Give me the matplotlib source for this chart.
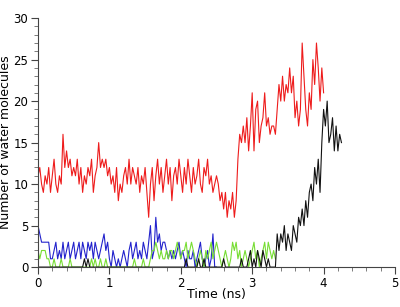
import numpy as np
import matplotlib
matplotlib.use("Agg")
import matplotlib.pyplot as plt
from matplotlib.ticker import MultipleLocator

dt = 0.025  # ns between samples

red = [11,12,10,9,11,10,12,9,11,13,10,9,11,10,16,12,14,12,13,11,
       12,11,13,10,12,9,11,10,12,11,13,9,11,12,15,12,13,12,13,11,
       12,10,11,9,12,8,10,9,11,12,10,13,10,12,11,10,12,9,11,10,
       12,9,6,10,12,8,11,13,10,12,9,11,13,10,12,8,11,12,10,13,
       11,9,12,10,13,11,9,12,10,11,13,10,9,12,11,13,10,11,9,10,
       11,10,8,9,7,9,6,8,7,9,6,8,
       13,16,15,17,15,18,14,17,21,14,19,20,15,17,18,21,17,18,16,17,
       17,16,19,22,20,23,20,22,21,24,21,23,18,20,17,19,27,23,19,17,
       21,19,25,22,27,24,20,24,21]

blue = [5,4,3,3,3,3,3,1,1,2,3,1,2,1,3,1,2,3,1,2,
        3,1,2,3,1,3,2,1,3,2,3,1,3,2,1,2,3,4,2,3,
        1,0,2,1,0,1,0,1,2,1,0,2,3,1,2,3,1,2,1,3,
        2,1,3,5,1,2,6,3,4,2,3,3,2,1,2,1,2,1,2,3,
        1,2,1,0,2,1,1,2,0,1,2,3,1,0,1,2,0,1,4,0,0]

green = [2,1,2,2,2,1,1,0,0,1,0,0,0,1,0,0,0,0,1,0,
         0,0,0,0,0,0,0,0,0,0,1,0,1,0,0,1,0,0,1,0,
         0,0,0,0,0,0,0,0,0,0,0,0,0,0,1,0,0,0,0,1,
         0,0,0,1,2,2,3,2,1,2,1,1,2,1,2,2,1,2,3,2,
         1,2,2,3,1,2,3,2,1,0,1,2,1,0,2,1,2,3,1,2,
         3,2,1,0,1,2,1,0,1,3,2,3,1,2,0,1,2,1,0,1,
         2,3,1,2,0,1,2,3,1,3,2,1,2,1]

black = [0,0,0,0,0,0,0,0,0,0,0,0,0,0,0,0,0,0,0,0,
         0,0,0,0,0,0,1,0,1,0,0,0,0,0,0,0,0,0,0,0,
         0,0,0,0,0,0,0,0,0,0,0,0,0,0,0,0,0,0,0,0,
         0,0,0,0,0,0,0,0,0,0,0,0,0,0,0,0,0,0,0,0,
         0,0,0,1,0,0,0,0,0,0,1,0,0,1,0,0,0,0,0,0,
         0,0,0,0,1,0,0,0,0,0,0,0,
         0,0,1,0,0,0,1,2,0,1,0,2,1,0,2,1,0,1,0,0,
         0,0,4,2,4,3,5,2,4,3,2,5,4,3,6,5,7,5,8,6,
         9,10,8,12,10,13,9,15,19,17,20,15,16,18,14,17,14,16,15]

series = [(red, "#ee1c1c"), (blue, "#2222cc"), (green, "#77dd33"), (black, "#111111")]

fig = plt.figure(figsize=(4.0, 3.07), dpi=100)
ax = fig.add_axes([0.095, 0.130, 0.8925, 0.811])

for vals, col in series:
    t = np.arange(len(vals)) * dt
    ax.plot(t, vals, color=col, lw=0.8)

ax.set_xlim(0, 5)
ax.set_ylim(0, 30)
ax.xaxis.set_major_locator(MultipleLocator(1))
ax.xaxis.set_minor_locator(MultipleLocator(0.2))
ax.yaxis.set_major_locator(MultipleLocator(5))
ax.yaxis.set_minor_locator(MultipleLocator(1))
for s in ["top", "right"]:
    ax.spines[s].set_visible(False)
for s in ["left", "bottom"]:
    ax.spines[s].set_color("#444444")
    ax.spines[s].set_linewidth(0.8)
ax.tick_params(which="major", length=5, width=0.8, color="#444444", labelsize=8.5, pad=2)
ax.tick_params(which="minor", length=3, width=0.6, color="#666666")
ax.set_xlabel("Time (ns)", fontsize=9)
ax.set_ylabel("Number of water molecules", fontsize=9)
ax.xaxis.set_label_coords(0.5, -0.085)
ax.yaxis.set_label_coords(-0.072, 0.5)

fig.savefig("out.png", dpi=100)
